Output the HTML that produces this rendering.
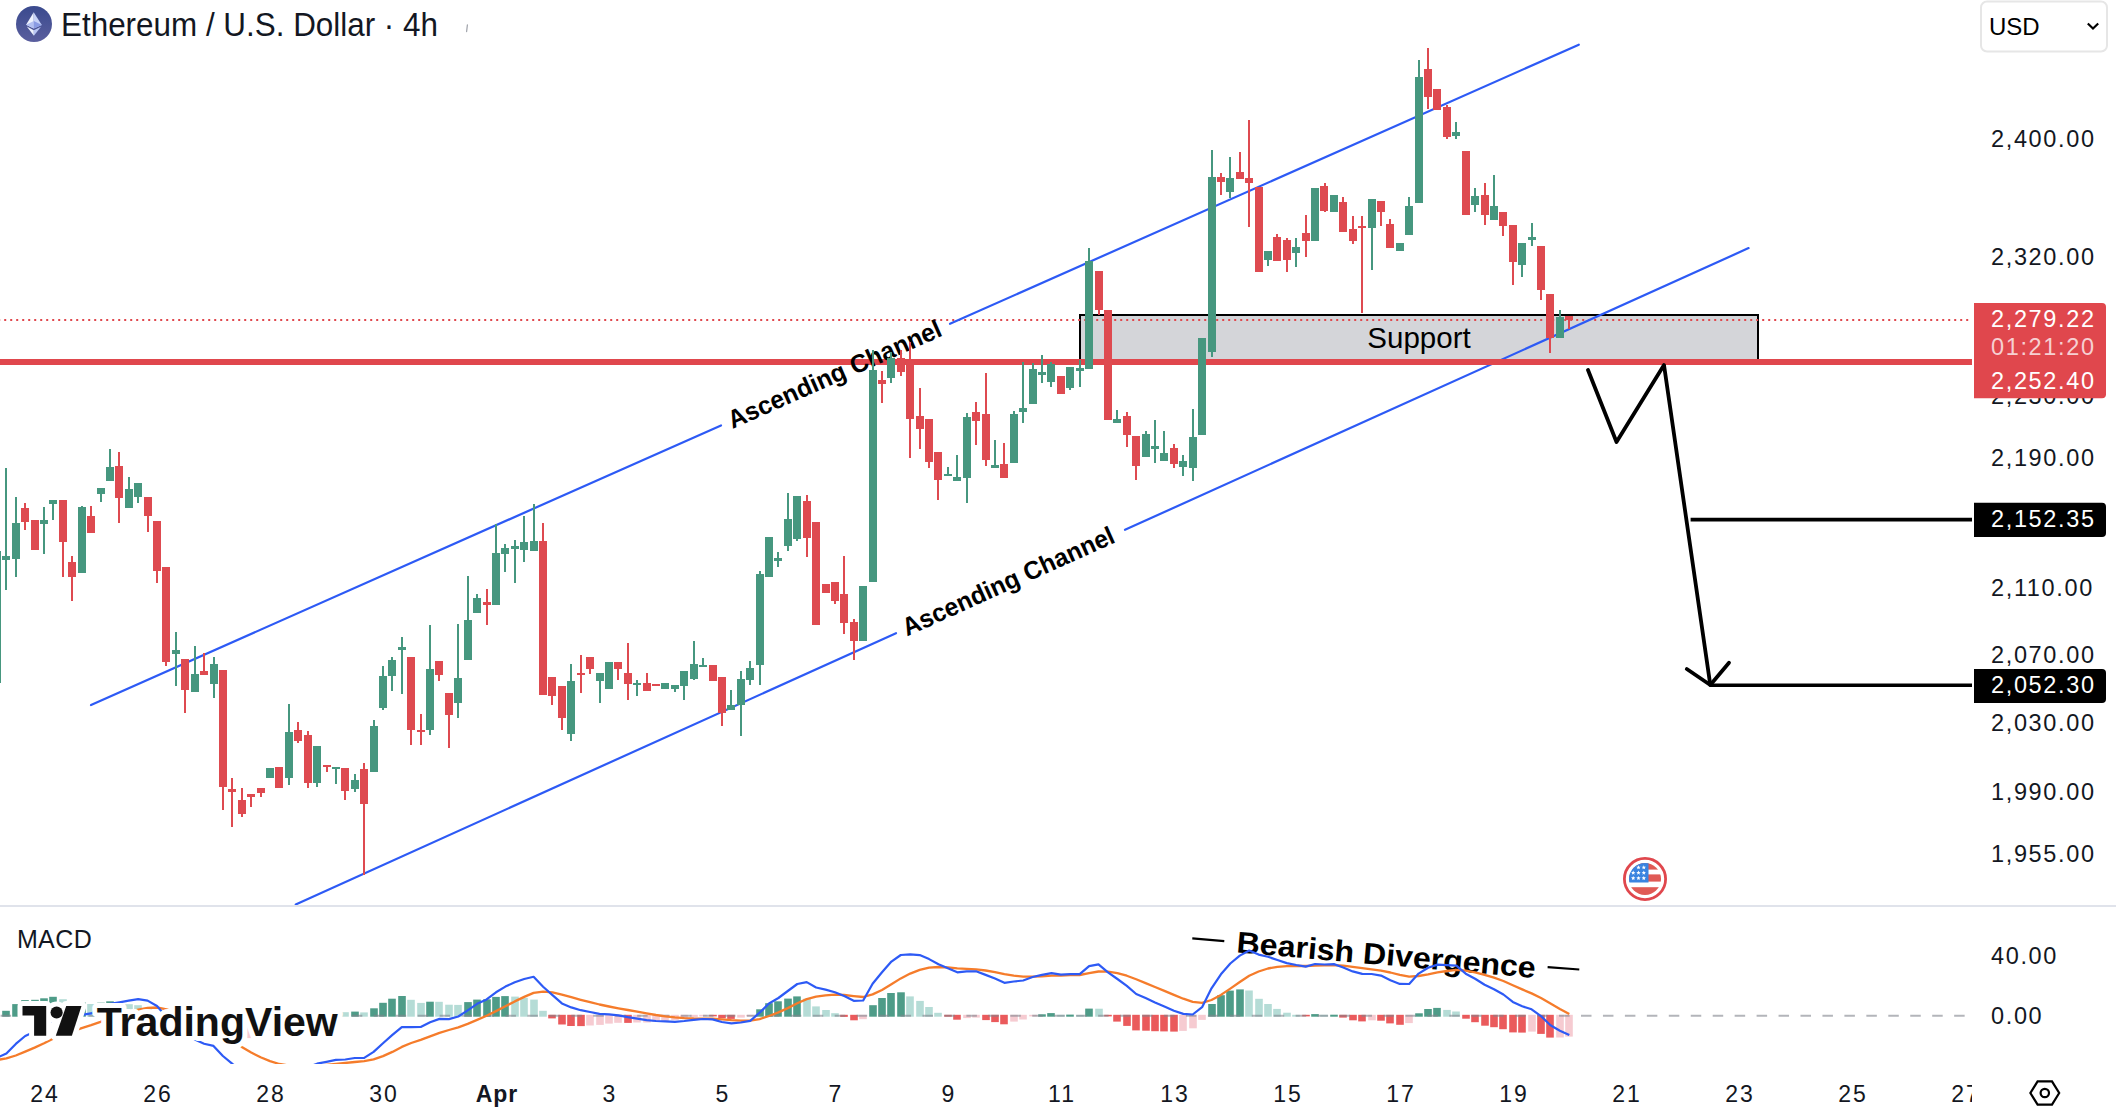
<!DOCTYPE html><html><head><meta charset="utf-8"><style>
html,body{margin:0;padding:0;background:#fff;width:2116px;height:1118px;overflow:hidden}
svg{display:block}
text{font-family:"Liberation Sans",sans-serif}
</style></head><body>
<svg width="2116" height="1118" viewBox="0 0 2116 1118">
<rect width="2116" height="1118" fill="#fff"/>
<defs>
<clipPath id="main"><rect x="0" y="0" width="1972" height="906"/></clipPath>
<clipPath id="macdc"><rect x="0" y="907" width="1972" height="157"/></clipPath>
<linearGradient id="ethg" x1="0" y1="0" x2="0" y2="1"><stop offset="0" stop-color="#3a4a8e"/><stop offset="1" stop-color="#5a5e9e"/></linearGradient>
</defs>

<g clip-path="url(#main)">
<rect x="1080" y="315" width="678" height="46" fill="#d4d5d9" stroke="#000" stroke-width="2"/>
<line x1="0" y1="320" x2="1972" y2="320" stroke="#e0474d" stroke-width="2" stroke-dasharray="2 4" stroke-dashoffset="1.8"/>
<line x1="91" y1="705.0" x2="721" y2="425.4" stroke="#2d5af5" stroke-width="2.2" stroke-linecap="round"/>
<line x1="950" y1="323.8" x2="1578.8" y2="44.7" stroke="#2d5af5" stroke-width="2.2" stroke-linecap="round"/>
<line x1="295.7" y1="904.4" x2="896" y2="633.2" stroke="#2d5af5" stroke-width="2.2" stroke-linecap="round"/>
<line x1="1125" y1="529.8" x2="1748.6" y2="248.1" stroke="#2d5af5" stroke-width="2.2" stroke-linecap="round"/>
<rect x="0" y="359" width="1972" height="6" fill="#e0474d"/>
<text x="1419" y="348" font-size="29.5" text-anchor="middle" fill="#000">Support</text>
<text transform="translate(907,636.5) rotate(-24.31)" font-size="25.5" font-weight="bold" fill="#000" textLength="230" lengthAdjust="spacingAndGlyphs">Ascending Channel</text>
<text transform="translate(732.5,429) rotate(-23.93)" font-size="25.5" font-weight="bold" fill="#000" textLength="231" lengthAdjust="spacingAndGlyphs">Ascending Channel</text>
<rect x="-4" y="551.0" width="2" height="132.0" fill="#46977f"/>
<rect x="-7" y="551.0" width="8" height="132.0" fill="#46977f"/>
<rect x="5" y="468.0" width="2" height="122.0" fill="#46977f"/>
<rect x="2" y="556.0" width="8" height="4.0" fill="#46977f"/>
<rect x="15" y="497.0" width="2" height="80.0" fill="#46977f"/>
<rect x="12" y="523.0" width="8" height="36.0" fill="#46977f"/>
<rect x="24" y="503.0" width="2" height="27.0" fill="#de4a50"/>
<rect x="21" y="508.0" width="8" height="14.0" fill="#de4a50"/>
<rect x="34" y="520.0" width="2" height="30.0" fill="#de4a50"/>
<rect x="31" y="520.0" width="8" height="30.0" fill="#de4a50"/>
<rect x="43" y="507.0" width="2" height="47.0" fill="#46977f"/>
<rect x="40" y="520.0" width="8" height="4.0" fill="#46977f"/>
<rect x="52" y="500.0" width="2" height="20.0" fill="#46977f"/>
<rect x="49" y="500.0" width="8" height="4.0" fill="#46977f"/>
<rect x="62" y="500.0" width="2" height="77.0" fill="#de4a50"/>
<rect x="59" y="500.0" width="8" height="42.0" fill="#de4a50"/>
<rect x="71" y="556.0" width="2" height="45.0" fill="#de4a50"/>
<rect x="68" y="562.0" width="8" height="15.0" fill="#de4a50"/>
<rect x="81" y="506.0" width="2" height="67.0" fill="#46977f"/>
<rect x="78" y="507.0" width="8" height="66.0" fill="#46977f"/>
<rect x="90" y="506.0" width="2" height="27.0" fill="#de4a50"/>
<rect x="87" y="516.0" width="8" height="17.0" fill="#de4a50"/>
<rect x="100" y="488.0" width="2" height="14.0" fill="#46977f"/>
<rect x="97" y="488.0" width="8" height="6.0" fill="#46977f"/>
<rect x="109" y="449.0" width="2" height="32.0" fill="#46977f"/>
<rect x="106" y="467.0" width="8" height="14.0" fill="#46977f"/>
<rect x="118" y="452.0" width="2" height="71.0" fill="#de4a50"/>
<rect x="115" y="466.0" width="8" height="32.0" fill="#de4a50"/>
<rect x="128" y="477.0" width="2" height="31.0" fill="#46977f"/>
<rect x="125" y="489.0" width="8" height="19.0" fill="#46977f"/>
<rect x="137" y="483.0" width="2" height="20.0" fill="#46977f"/>
<rect x="134" y="483.0" width="8" height="14.0" fill="#46977f"/>
<rect x="147" y="497.0" width="2" height="35.0" fill="#de4a50"/>
<rect x="144" y="497.0" width="8" height="19.0" fill="#de4a50"/>
<rect x="156" y="521.0" width="2" height="62.0" fill="#de4a50"/>
<rect x="153" y="521.0" width="8" height="50.0" fill="#de4a50"/>
<rect x="165" y="567.0" width="2" height="99.0" fill="#de4a50"/>
<rect x="162" y="567.0" width="8" height="95.0" fill="#de4a50"/>
<rect x="175" y="632.0" width="2" height="54.0" fill="#46977f"/>
<rect x="172" y="650.0" width="8" height="4.0" fill="#46977f"/>
<rect x="184" y="659.0" width="2" height="54.0" fill="#de4a50"/>
<rect x="181" y="659.0" width="8" height="31.0" fill="#de4a50"/>
<rect x="194" y="646.0" width="2" height="46.0" fill="#46977f"/>
<rect x="191" y="674.0" width="8" height="18.0" fill="#46977f"/>
<rect x="203" y="653.0" width="2" height="22.0" fill="#de4a50"/>
<rect x="200" y="671.0" width="8" height="4.0" fill="#de4a50"/>
<rect x="213" y="657.0" width="2" height="41.0" fill="#46977f"/>
<rect x="210" y="664.0" width="8" height="20.0" fill="#46977f"/>
<rect x="222" y="670.0" width="2" height="140.0" fill="#de4a50"/>
<rect x="219" y="670.0" width="8" height="117.0" fill="#de4a50"/>
<rect x="231" y="778.0" width="2" height="49.0" fill="#de4a50"/>
<rect x="228" y="789.0" width="8" height="3.0" fill="#de4a50"/>
<rect x="241" y="788.0" width="2" height="29.0" fill="#de4a50"/>
<rect x="238" y="800.0" width="8" height="14.0" fill="#de4a50"/>
<rect x="250" y="794.0" width="2" height="13.0" fill="#de4a50"/>
<rect x="247" y="794.0" width="8" height="3.0" fill="#de4a50"/>
<rect x="260" y="788.0" width="2" height="9.0" fill="#de4a50"/>
<rect x="257" y="788.0" width="8" height="5.0" fill="#de4a50"/>
<rect x="269" y="768.0" width="2" height="10.0" fill="#46977f"/>
<rect x="266" y="768.0" width="8" height="10.0" fill="#46977f"/>
<rect x="278" y="767.0" width="2" height="21.0" fill="#de4a50"/>
<rect x="275" y="767.0" width="8" height="21.0" fill="#de4a50"/>
<rect x="288" y="704.0" width="2" height="81.0" fill="#46977f"/>
<rect x="285" y="732.0" width="8" height="46.0" fill="#46977f"/>
<rect x="297" y="722.0" width="2" height="21.0" fill="#de4a50"/>
<rect x="294" y="730.0" width="8" height="11.0" fill="#de4a50"/>
<rect x="307" y="731.0" width="2" height="57.0" fill="#de4a50"/>
<rect x="304" y="735.0" width="8" height="48.0" fill="#de4a50"/>
<rect x="316" y="746.0" width="2" height="41.0" fill="#46977f"/>
<rect x="313" y="746.0" width="8" height="37.0" fill="#46977f"/>
<rect x="326" y="765.0" width="2" height="7.0" fill="#de4a50"/>
<rect x="323" y="765.0" width="8" height="2.0" fill="#de4a50"/>
<rect x="335" y="767.0" width="2" height="17.0" fill="#46977f"/>
<rect x="332" y="767.0" width="8" height="2.0" fill="#46977f"/>
<rect x="344" y="768.0" width="2" height="32.0" fill="#de4a50"/>
<rect x="341" y="768.0" width="8" height="23.0" fill="#de4a50"/>
<rect x="354" y="774.0" width="2" height="18.0" fill="#46977f"/>
<rect x="351" y="780.0" width="8" height="9.0" fill="#46977f"/>
<rect x="363" y="763.0" width="2" height="112.0" fill="#de4a50"/>
<rect x="360" y="769.0" width="8" height="35.0" fill="#de4a50"/>
<rect x="373" y="720.0" width="2" height="52.0" fill="#46977f"/>
<rect x="370" y="726.0" width="8" height="46.0" fill="#46977f"/>
<rect x="382" y="666.0" width="2" height="44.0" fill="#46977f"/>
<rect x="379" y="676.0" width="8" height="32.0" fill="#46977f"/>
<rect x="391" y="657.0" width="2" height="34.0" fill="#46977f"/>
<rect x="388" y="660.0" width="8" height="16.0" fill="#46977f"/>
<rect x="401" y="637.0" width="2" height="57.0" fill="#46977f"/>
<rect x="398" y="647.0" width="8" height="3.0" fill="#46977f"/>
<rect x="410" y="657.0" width="2" height="88.0" fill="#de4a50"/>
<rect x="407" y="657.0" width="8" height="73.0" fill="#de4a50"/>
<rect x="420" y="714.0" width="2" height="31.0" fill="#de4a50"/>
<rect x="417" y="730.0" width="8" height="2.0" fill="#de4a50"/>
<rect x="429" y="625.0" width="2" height="110.0" fill="#46977f"/>
<rect x="426" y="669.0" width="8" height="61.0" fill="#46977f"/>
<rect x="438" y="661.0" width="2" height="20.0" fill="#de4a50"/>
<rect x="435" y="661.0" width="8" height="14.0" fill="#de4a50"/>
<rect x="448" y="693.0" width="2" height="55.0" fill="#de4a50"/>
<rect x="445" y="693.0" width="8" height="22.0" fill="#de4a50"/>
<rect x="457" y="624.0" width="2" height="94.0" fill="#46977f"/>
<rect x="454" y="678.0" width="8" height="25.0" fill="#46977f"/>
<rect x="467" y="576.0" width="2" height="84.0" fill="#46977f"/>
<rect x="464" y="620.0" width="8" height="40.0" fill="#46977f"/>
<rect x="476" y="594.0" width="2" height="19.0" fill="#46977f"/>
<rect x="473" y="598.0" width="8" height="15.0" fill="#46977f"/>
<rect x="486" y="589.0" width="2" height="36.0" fill="#de4a50"/>
<rect x="483" y="602.0" width="8" height="3.0" fill="#de4a50"/>
<rect x="495" y="524.0" width="2" height="81.0" fill="#46977f"/>
<rect x="492" y="553.0" width="8" height="52.0" fill="#46977f"/>
<rect x="504" y="544.0" width="2" height="28.0" fill="#46977f"/>
<rect x="501" y="548.0" width="8" height="6.0" fill="#46977f"/>
<rect x="514" y="540.0" width="2" height="43.0" fill="#46977f"/>
<rect x="511" y="546.0" width="8" height="3.0" fill="#46977f"/>
<rect x="523" y="516.0" width="2" height="46.0" fill="#46977f"/>
<rect x="520" y="542.0" width="8" height="8.0" fill="#46977f"/>
<rect x="533" y="504.0" width="2" height="47.0" fill="#46977f"/>
<rect x="530" y="541.0" width="8" height="10.0" fill="#46977f"/>
<rect x="542" y="523.0" width="2" height="172.0" fill="#de4a50"/>
<rect x="539" y="541.0" width="8" height="154.0" fill="#de4a50"/>
<rect x="551" y="677.0" width="2" height="28.0" fill="#de4a50"/>
<rect x="548" y="677.0" width="8" height="19.0" fill="#de4a50"/>
<rect x="561" y="686.0" width="2" height="44.0" fill="#de4a50"/>
<rect x="558" y="686.0" width="8" height="32.0" fill="#de4a50"/>
<rect x="570" y="664.0" width="2" height="77.0" fill="#46977f"/>
<rect x="567" y="681.0" width="8" height="53.0" fill="#46977f"/>
<rect x="580" y="655.0" width="2" height="38.0" fill="#de4a50"/>
<rect x="577" y="673.0" width="8" height="2.0" fill="#de4a50"/>
<rect x="589" y="657.0" width="2" height="17.0" fill="#de4a50"/>
<rect x="586" y="657.0" width="8" height="12.0" fill="#de4a50"/>
<rect x="599" y="673.0" width="2" height="30.0" fill="#46977f"/>
<rect x="596" y="673.0" width="8" height="8.0" fill="#46977f"/>
<rect x="608" y="662.0" width="2" height="27.0" fill="#46977f"/>
<rect x="605" y="662.0" width="8" height="27.0" fill="#46977f"/>
<rect x="617" y="662.0" width="2" height="18.0" fill="#de4a50"/>
<rect x="614" y="662.0" width="8" height="7.0" fill="#de4a50"/>
<rect x="627" y="643.0" width="2" height="57.0" fill="#de4a50"/>
<rect x="624" y="673.0" width="8" height="11.0" fill="#de4a50"/>
<rect x="636" y="680.0" width="2" height="16.0" fill="#46977f"/>
<rect x="633" y="683.0" width="8" height="2.0" fill="#46977f"/>
<rect x="646" y="673.0" width="2" height="18.0" fill="#de4a50"/>
<rect x="643" y="683.0" width="8" height="8.0" fill="#de4a50"/>
<rect x="655" y="684.0" width="2" height="2.0" fill="#de4a50"/>
<rect x="652" y="684.0" width="8" height="2.0" fill="#de4a50"/>
<rect x="664" y="683.0" width="2" height="6.0" fill="#46977f"/>
<rect x="661" y="683.0" width="8" height="6.0" fill="#46977f"/>
<rect x="674" y="685.0" width="2" height="7.0" fill="#46977f"/>
<rect x="671" y="685.0" width="8" height="4.0" fill="#46977f"/>
<rect x="683" y="671.0" width="2" height="29.0" fill="#46977f"/>
<rect x="680" y="671.0" width="8" height="15.0" fill="#46977f"/>
<rect x="693" y="641.0" width="2" height="39.0" fill="#46977f"/>
<rect x="690" y="664.0" width="8" height="15.0" fill="#46977f"/>
<rect x="702" y="658.0" width="2" height="9.0" fill="#46977f"/>
<rect x="699" y="665.0" width="8" height="2.0" fill="#46977f"/>
<rect x="712" y="665.0" width="2" height="16.0" fill="#de4a50"/>
<rect x="709" y="665.0" width="8" height="16.0" fill="#de4a50"/>
<rect x="721" y="677.0" width="2" height="49.0" fill="#de4a50"/>
<rect x="718" y="677.0" width="8" height="36.0" fill="#de4a50"/>
<rect x="730" y="690.0" width="2" height="20.0" fill="#46977f"/>
<rect x="727" y="705.0" width="8" height="5.0" fill="#46977f"/>
<rect x="740" y="671.0" width="2" height="65.0" fill="#46977f"/>
<rect x="737" y="679.0" width="8" height="26.0" fill="#46977f"/>
<rect x="749" y="661.0" width="2" height="24.0" fill="#46977f"/>
<rect x="746" y="668.0" width="8" height="12.0" fill="#46977f"/>
<rect x="759" y="571.0" width="2" height="114.0" fill="#46977f"/>
<rect x="756" y="574.0" width="8" height="91.0" fill="#46977f"/>
<rect x="768" y="537.0" width="2" height="40.0" fill="#46977f"/>
<rect x="765" y="537.0" width="8" height="40.0" fill="#46977f"/>
<rect x="777" y="552.0" width="2" height="15.0" fill="#46977f"/>
<rect x="774" y="558.0" width="8" height="3.0" fill="#46977f"/>
<rect x="787" y="493.0" width="2" height="58.0" fill="#46977f"/>
<rect x="784" y="519.0" width="8" height="27.0" fill="#46977f"/>
<rect x="796" y="496.0" width="2" height="45.0" fill="#46977f"/>
<rect x="793" y="496.0" width="8" height="43.0" fill="#46977f"/>
<rect x="806" y="495.0" width="2" height="62.0" fill="#de4a50"/>
<rect x="803" y="501.0" width="8" height="37.0" fill="#de4a50"/>
<rect x="815" y="522.0" width="2" height="103.0" fill="#de4a50"/>
<rect x="812" y="522.0" width="8" height="103.0" fill="#de4a50"/>
<rect x="825" y="584.0" width="2" height="9.0" fill="#de4a50"/>
<rect x="822" y="584.0" width="8" height="9.0" fill="#de4a50"/>
<rect x="834" y="582.0" width="2" height="22.0" fill="#de4a50"/>
<rect x="831" y="582.0" width="8" height="19.0" fill="#de4a50"/>
<rect x="843" y="556.0" width="2" height="78.0" fill="#de4a50"/>
<rect x="840" y="594.0" width="8" height="29.0" fill="#de4a50"/>
<rect x="853" y="619.0" width="2" height="41.0" fill="#de4a50"/>
<rect x="850" y="622.0" width="8" height="19.0" fill="#de4a50"/>
<rect x="862" y="586.0" width="2" height="55.0" fill="#46977f"/>
<rect x="859" y="586.0" width="8" height="55.0" fill="#46977f"/>
<rect x="872" y="350.0" width="2" height="232.0" fill="#46977f"/>
<rect x="869" y="370.0" width="8" height="212.0" fill="#46977f"/>
<rect x="881" y="371.0" width="2" height="32.0" fill="#de4a50"/>
<rect x="878" y="380.0" width="8" height="4.0" fill="#de4a50"/>
<rect x="890" y="352.0" width="2" height="31.0" fill="#46977f"/>
<rect x="887" y="358.0" width="8" height="20.0" fill="#46977f"/>
<rect x="900" y="350.0" width="2" height="26.0" fill="#de4a50"/>
<rect x="897" y="358.0" width="8" height="14.0" fill="#de4a50"/>
<rect x="909" y="342.0" width="2" height="116.0" fill="#de4a50"/>
<rect x="906" y="361.0" width="8" height="58.0" fill="#de4a50"/>
<rect x="919" y="388.0" width="2" height="61.0" fill="#de4a50"/>
<rect x="916" y="416.0" width="8" height="13.0" fill="#de4a50"/>
<rect x="928" y="419.0" width="2" height="49.0" fill="#de4a50"/>
<rect x="925" y="419.0" width="8" height="43.0" fill="#de4a50"/>
<rect x="937" y="452.0" width="2" height="48.0" fill="#de4a50"/>
<rect x="934" y="452.0" width="8" height="28.0" fill="#de4a50"/>
<rect x="947" y="467.0" width="2" height="9.0" fill="#46977f"/>
<rect x="944" y="474.0" width="8" height="2.0" fill="#46977f"/>
<rect x="956" y="455.0" width="2" height="26.0" fill="#46977f"/>
<rect x="953" y="477.0" width="8" height="4.0" fill="#46977f"/>
<rect x="966" y="413.0" width="2" height="90.0" fill="#46977f"/>
<rect x="963" y="417.0" width="8" height="61.0" fill="#46977f"/>
<rect x="975" y="402.0" width="2" height="43.0" fill="#de4a50"/>
<rect x="972" y="412.0" width="8" height="9.0" fill="#de4a50"/>
<rect x="985" y="373.0" width="2" height="93.0" fill="#de4a50"/>
<rect x="982" y="414.0" width="8" height="46.0" fill="#de4a50"/>
<rect x="994" y="440.0" width="2" height="28.0" fill="#46977f"/>
<rect x="991" y="465.0" width="8" height="3.0" fill="#46977f"/>
<rect x="1003" y="443.0" width="2" height="35.0" fill="#de4a50"/>
<rect x="1000" y="464.0" width="8" height="14.0" fill="#de4a50"/>
<rect x="1013" y="411.0" width="2" height="52.0" fill="#46977f"/>
<rect x="1010" y="414.0" width="8" height="49.0" fill="#46977f"/>
<rect x="1022" y="362.0" width="2" height="61.0" fill="#46977f"/>
<rect x="1019" y="408.0" width="8" height="4.0" fill="#46977f"/>
<rect x="1032" y="363.0" width="2" height="41.0" fill="#46977f"/>
<rect x="1029" y="369.0" width="8" height="35.0" fill="#46977f"/>
<rect x="1041" y="355.0" width="2" height="28.0" fill="#46977f"/>
<rect x="1038" y="372.0" width="8" height="3.0" fill="#46977f"/>
<rect x="1050" y="362.0" width="2" height="25.0" fill="#46977f"/>
<rect x="1047" y="364.0" width="8" height="18.0" fill="#46977f"/>
<rect x="1060" y="376.0" width="2" height="18.0" fill="#de4a50"/>
<rect x="1057" y="376.0" width="8" height="18.0" fill="#de4a50"/>
<rect x="1069" y="367.0" width="2" height="23.0" fill="#46977f"/>
<rect x="1066" y="367.0" width="8" height="21.0" fill="#46977f"/>
<rect x="1079" y="360.0" width="2" height="27.0" fill="#46977f"/>
<rect x="1076" y="368.0" width="8" height="3.0" fill="#46977f"/>
<rect x="1088" y="248.0" width="2" height="121.0" fill="#46977f"/>
<rect x="1085" y="261.0" width="8" height="108.0" fill="#46977f"/>
<rect x="1098" y="271.0" width="2" height="44.0" fill="#de4a50"/>
<rect x="1095" y="271.0" width="8" height="39.0" fill="#de4a50"/>
<rect x="1107" y="310.0" width="2" height="110.0" fill="#de4a50"/>
<rect x="1104" y="310.0" width="8" height="110.0" fill="#de4a50"/>
<rect x="1116" y="410.0" width="2" height="13.0" fill="#46977f"/>
<rect x="1113" y="419.0" width="8" height="4.0" fill="#46977f"/>
<rect x="1126" y="412.0" width="2" height="35.0" fill="#de4a50"/>
<rect x="1123" y="416.0" width="8" height="19.0" fill="#de4a50"/>
<rect x="1135" y="436.0" width="2" height="44.0" fill="#de4a50"/>
<rect x="1132" y="436.0" width="8" height="30.0" fill="#de4a50"/>
<rect x="1145" y="431.0" width="2" height="26.0" fill="#46977f"/>
<rect x="1142" y="434.0" width="8" height="23.0" fill="#46977f"/>
<rect x="1154" y="420.0" width="2" height="43.0" fill="#46977f"/>
<rect x="1151" y="446.0" width="8" height="3.0" fill="#46977f"/>
<rect x="1163" y="431.0" width="2" height="30.0" fill="#46977f"/>
<rect x="1160" y="453.0" width="8" height="8.0" fill="#46977f"/>
<rect x="1173" y="444.0" width="2" height="24.0" fill="#de4a50"/>
<rect x="1170" y="448.0" width="8" height="16.0" fill="#de4a50"/>
<rect x="1182" y="455.0" width="2" height="21.0" fill="#46977f"/>
<rect x="1179" y="461.0" width="8" height="6.0" fill="#46977f"/>
<rect x="1192" y="409.0" width="2" height="72.0" fill="#46977f"/>
<rect x="1189" y="437.0" width="8" height="31.0" fill="#46977f"/>
<rect x="1201" y="338.0" width="2" height="97.0" fill="#46977f"/>
<rect x="1198" y="338.0" width="8" height="97.0" fill="#46977f"/>
<rect x="1211" y="150.0" width="2" height="207.0" fill="#46977f"/>
<rect x="1208" y="177.0" width="8" height="175.0" fill="#46977f"/>
<rect x="1220" y="173.0" width="2" height="22.0" fill="#de4a50"/>
<rect x="1217" y="177.0" width="8" height="5.0" fill="#de4a50"/>
<rect x="1229" y="157.0" width="2" height="41.0" fill="#46977f"/>
<rect x="1226" y="178.0" width="8" height="14.0" fill="#46977f"/>
<rect x="1239" y="152.0" width="2" height="27.0" fill="#de4a50"/>
<rect x="1236" y="172.0" width="8" height="7.0" fill="#de4a50"/>
<rect x="1248" y="120.0" width="2" height="107.0" fill="#de4a50"/>
<rect x="1245" y="178.0" width="8" height="5.0" fill="#de4a50"/>
<rect x="1258" y="187.0" width="2" height="85.0" fill="#de4a50"/>
<rect x="1255" y="187.0" width="8" height="85.0" fill="#de4a50"/>
<rect x="1267" y="251.0" width="2" height="15.0" fill="#46977f"/>
<rect x="1264" y="251.0" width="8" height="9.0" fill="#46977f"/>
<rect x="1276" y="234.0" width="2" height="27.0" fill="#de4a50"/>
<rect x="1273" y="237.0" width="8" height="24.0" fill="#de4a50"/>
<rect x="1286" y="238.0" width="2" height="34.0" fill="#de4a50"/>
<rect x="1283" y="240.0" width="8" height="20.0" fill="#de4a50"/>
<rect x="1295" y="238.0" width="2" height="29.0" fill="#46977f"/>
<rect x="1292" y="247.0" width="8" height="6.0" fill="#46977f"/>
<rect x="1305" y="215.0" width="2" height="42.0" fill="#de4a50"/>
<rect x="1302" y="233.0" width="8" height="8.0" fill="#de4a50"/>
<rect x="1314" y="188.0" width="2" height="53.0" fill="#46977f"/>
<rect x="1311" y="188.0" width="8" height="53.0" fill="#46977f"/>
<rect x="1324" y="183.0" width="2" height="29.0" fill="#de4a50"/>
<rect x="1320" y="186.0" width="8" height="25.0" fill="#de4a50"/>
<rect x="1333" y="195.0" width="2" height="17.0" fill="#46977f"/>
<rect x="1330" y="195.0" width="8" height="17.0" fill="#46977f"/>
<rect x="1342" y="197.0" width="2" height="35.0" fill="#de4a50"/>
<rect x="1339" y="202.0" width="8" height="30.0" fill="#de4a50"/>
<rect x="1352" y="216.0" width="2" height="28.0" fill="#de4a50"/>
<rect x="1349" y="229.0" width="8" height="12.0" fill="#de4a50"/>
<rect x="1361" y="216.0" width="2" height="97.0" fill="#de4a50"/>
<rect x="1358" y="226.0" width="8" height="2.0" fill="#de4a50"/>
<rect x="1371" y="199.0" width="2" height="71.0" fill="#46977f"/>
<rect x="1368" y="199.0" width="8" height="29.0" fill="#46977f"/>
<rect x="1380" y="201.0" width="2" height="25.0" fill="#de4a50"/>
<rect x="1377" y="201.0" width="8" height="11.0" fill="#de4a50"/>
<rect x="1389" y="219.0" width="2" height="29.0" fill="#de4a50"/>
<rect x="1386" y="224.0" width="8" height="24.0" fill="#de4a50"/>
<rect x="1399" y="243.0" width="2" height="8.0" fill="#46977f"/>
<rect x="1396" y="243.0" width="8" height="8.0" fill="#46977f"/>
<rect x="1408" y="197.0" width="2" height="38.0" fill="#46977f"/>
<rect x="1405" y="206.0" width="8" height="29.0" fill="#46977f"/>
<rect x="1418" y="60.0" width="2" height="143.0" fill="#46977f"/>
<rect x="1415" y="77.0" width="8" height="126.0" fill="#46977f"/>
<rect x="1427" y="48.0" width="2" height="61.0" fill="#de4a50"/>
<rect x="1424" y="69.0" width="8" height="28.0" fill="#de4a50"/>
<rect x="1436" y="89.0" width="2" height="21.0" fill="#de4a50"/>
<rect x="1433" y="89.0" width="8" height="21.0" fill="#de4a50"/>
<rect x="1446" y="105.0" width="2" height="34.0" fill="#de4a50"/>
<rect x="1443" y="107.0" width="8" height="30.0" fill="#de4a50"/>
<rect x="1455" y="122.0" width="2" height="17.0" fill="#46977f"/>
<rect x="1452" y="132.0" width="8" height="4.0" fill="#46977f"/>
<rect x="1465" y="151.0" width="2" height="64.0" fill="#de4a50"/>
<rect x="1462" y="151.0" width="8" height="64.0" fill="#de4a50"/>
<rect x="1474" y="188.0" width="2" height="24.0" fill="#46977f"/>
<rect x="1471" y="196.0" width="8" height="9.0" fill="#46977f"/>
<rect x="1484" y="183.0" width="2" height="42.0" fill="#de4a50"/>
<rect x="1481" y="195.0" width="8" height="20.0" fill="#de4a50"/>
<rect x="1493" y="175.0" width="2" height="45.0" fill="#46977f"/>
<rect x="1490" y="206.0" width="8" height="14.0" fill="#46977f"/>
<rect x="1502" y="212.0" width="2" height="24.0" fill="#de4a50"/>
<rect x="1499" y="212.0" width="8" height="14.0" fill="#de4a50"/>
<rect x="1512" y="225.0" width="2" height="60.0" fill="#de4a50"/>
<rect x="1509" y="225.0" width="8" height="37.0" fill="#de4a50"/>
<rect x="1521" y="243.0" width="2" height="34.0" fill="#46977f"/>
<rect x="1518" y="243.0" width="8" height="22.0" fill="#46977f"/>
<rect x="1531" y="223.0" width="2" height="23.0" fill="#46977f"/>
<rect x="1528" y="237.0" width="8" height="3.0" fill="#46977f"/>
<rect x="1540" y="246.0" width="2" height="54.0" fill="#de4a50"/>
<rect x="1537" y="246.0" width="8" height="44.0" fill="#de4a50"/>
<rect x="1549" y="294.0" width="2" height="59.0" fill="#de4a50"/>
<rect x="1546" y="294.0" width="8" height="44.0" fill="#de4a50"/>
<rect x="1559" y="310.0" width="2" height="28.0" fill="#46977f"/>
<rect x="1556" y="317.0" width="8" height="21.0" fill="#46977f"/>
<rect x="1568" y="316.0" width="2" height="13.0" fill="#de4a50"/>
<rect x="1565" y="316.0" width="8" height="4.0" fill="#de4a50"/>
<polyline points="1588,370 1616.5,442 1664,365 1710.3,685" fill="none" stroke="#000" stroke-width="3.8" stroke-linejoin="round" stroke-linecap="round"/>
<polyline points="1686.8,669 1710.3,685 1729,662.7" fill="none" stroke="#000" stroke-width="3.8" stroke-linejoin="round" stroke-linecap="round"/>
<line x1="1690.6" y1="519.6" x2="1972" y2="519.6" stroke="#000" stroke-width="3.6"/>
<line x1="1710" y1="685.2" x2="1972" y2="685.2" stroke="#000" stroke-width="3.6"/>
<g transform="translate(1645,879)">
<circle r="20.6" fill="#fff" stroke="#e0474d" stroke-width="2.8"/>
<clipPath id="flagc"><circle r="16" /></clipPath>
<g clip-path="url(#flagc)">
<rect x="-17" y="-17" width="34" height="34" fill="#fff"/>
<rect x="-17" y="-16" width="34" height="6.6" fill="#e05a55"/>
<rect x="-17" y="-4.6" width="34" height="7.2" fill="#e05a55"/>
<rect x="-17" y="8.2" width="34" height="9" fill="#e05a55"/>
<rect x="-17" y="-17" width="20.5" height="20.5" fill="#3a84e0"/>
</g>
<g fill="#fff"><polygon points="-6.50,-13.80 -5.89,-12.34 -4.31,-12.21 -5.52,-11.18 -5.15,-9.64 -6.50,-10.46 -7.85,-9.64 -7.48,-11.18 -8.69,-12.21 -7.11,-12.34"/><polygon points="-1.20,-13.80 -0.59,-12.34 0.99,-12.21 -0.22,-11.18 0.15,-9.64 -1.20,-10.46 -2.55,-9.64 -2.18,-11.18 -3.39,-12.21 -1.81,-12.34"/><polygon points="-11.80,-8.50 -11.19,-7.04 -9.61,-6.91 -10.82,-5.88 -10.45,-4.34 -11.80,-5.17 -13.15,-4.34 -12.78,-5.88 -13.99,-6.91 -12.41,-7.04"/><polygon points="-6.50,-8.50 -5.89,-7.04 -4.31,-6.91 -5.52,-5.88 -5.15,-4.34 -6.50,-5.17 -7.85,-4.34 -7.48,-5.88 -8.69,-6.91 -7.11,-7.04"/><polygon points="-1.20,-8.50 -0.59,-7.04 0.99,-6.91 -0.22,-5.88 0.15,-4.34 -1.20,-5.17 -2.55,-4.34 -2.18,-5.88 -3.39,-6.91 -1.81,-7.04"/><polygon points="-11.80,-3.10 -11.19,-1.64 -9.61,-1.51 -10.82,-0.48 -10.45,1.06 -11.80,0.23 -13.15,1.06 -12.78,-0.48 -13.99,-1.51 -12.41,-1.64"/><polygon points="-6.50,-3.10 -5.89,-1.64 -4.31,-1.51 -5.52,-0.48 -5.15,1.06 -6.50,0.23 -7.85,1.06 -7.48,-0.48 -8.69,-1.51 -7.11,-1.64"/><polygon points="-1.20,-3.10 -0.59,-1.64 0.99,-1.51 -0.22,-0.48 0.15,1.06 -1.20,0.23 -2.55,1.06 -2.18,-0.48 -3.39,-1.51 -1.81,-1.64"/></g></g>
</g>
<rect x="0" y="905" width="2116" height="2" fill="#e0e3eb"/>
<text x="1991" y="146.6" font-size="23.5" letter-spacing="1.65" fill="#131722">2,400.00</text>
<text x="1991" y="264.6" font-size="23.5" letter-spacing="1.65" fill="#131722">2,320.00</text>
<text x="1991" y="403.6" font-size="23.5" letter-spacing="1.65" fill="#131722">2,230.00</text>
<text x="1991" y="465.6" font-size="23.5" letter-spacing="1.65" fill="#131722">2,190.00</text>
<text x="1991" y="595.6" font-size="23.5" letter-spacing="1.65" fill="#131722">2,110.00</text>
<text x="1991" y="662.6" font-size="23.5" letter-spacing="1.65" fill="#131722">2,070.00</text>
<text x="1991" y="730.6" font-size="23.5" letter-spacing="1.65" fill="#131722">2,030.00</text>
<text x="1991" y="799.6" font-size="23.5" letter-spacing="1.65" fill="#131722">1,990.00</text>
<text x="1991" y="861.6" font-size="23.5" letter-spacing="1.65" fill="#131722">1,955.00</text>
<path d="M1974,303 H2102 Q2106,303 2106,307 V394.2 Q2106,398.2 2102,398.2 H1974 Z" fill="#e0474d"/>
<text x="1991" y="327.0" font-size="23.5" letter-spacing="1.65" fill="#fff">2,279.22</text>
<text x="1991" y="354.6" font-size="23.5" letter-spacing="1.65" fill="#f6d0d2">01:21:20</text>
<text x="1991" y="388.6" font-size="23.5" letter-spacing="1.65" fill="#fff">2,252.40</text>
<path d="M1974,502.7 H2102 Q2106,502.7 2106,506.7 V533 Q2106,537 2102,537 H1974 Z" fill="#000"/>
<text x="1991" y="527.2" font-size="23.5" letter-spacing="1.65" fill="#fff">2,152.35</text>
<path d="M1974,669 H2102 Q2106,669 2106,673 V699 Q2106,703 2102,703 H1974 Z" fill="#000"/>
<text x="1991" y="693.1" font-size="23.5" letter-spacing="1.65" fill="#fff">2,052.30</text>
<g>
<circle cx="34" cy="24" r="18" fill="url(#ethg)"/>
<path d="M33.7,12.3 L33.8,28.6 L26.1,24.8 Z" fill="#eef2fe"/>
<path d="M33.7,12.3 L41.8,25 L33.8,28.6 Z" fill="#c6d1f7"/>
<path d="M26.1,24.8 L33.8,21 L33.8,28.6 Z" fill="#b3c0f2"/>
<path d="M41.8,25 L33.8,21 L33.8,28.6 Z" fill="#8a9be3"/>
<path d="M26.8,26.6 L33.8,30.2 L33.9,35.8 Z" fill="#eef2fe"/>
<path d="M41,26.8 L33.8,30.2 L33.9,35.8 Z" fill="#b9c6f4"/>
</g>
<path d="M467.4,25 L466.6,31.5" stroke="#a4a7ae" stroke-width="1.3" stroke-linecap="round"/>
<text x="61" y="35.8" font-size="32.4" fill="#131722" textLength="377" lengthAdjust="spacingAndGlyphs">Ethereum / U.S. Dollar · 4h</text>
<rect x="1981" y="1.5" width="126" height="50" rx="6" fill="#fff" stroke="#e6e6e6" stroke-width="2"/>
<text x="1989" y="34.5" font-size="24" fill="#000">USD</text>
<polyline points="2087.8,23.5 2093,28.5 2098.2,23.5" fill="none" stroke="#000" stroke-width="2.2"/>
<g clip-path="url(#macdc)">
<rect x="2.20" y="1010.8" width="7.6" height="5.9" fill="#4e9c88"/>
<rect x="12.20" y="1004.1" width="7.6" height="12.6" fill="#4e9c88"/>
<rect x="21.20" y="1000.1" width="7.6" height="16.6" fill="#4e9c88"/>
<rect x="31.20" y="999.8" width="7.6" height="16.9" fill="#4e9c88"/>
<rect x="40.20" y="998.3" width="7.6" height="18.4" fill="#4e9c88"/>
<rect x="49.20" y="996.8" width="7.6" height="19.9" fill="#4e9c88"/>
<rect x="59.20" y="999.2" width="7.6" height="17.5" fill="#b5dcd6"/>
<rect x="68.20" y="1003.5" width="7.6" height="13.2" fill="#b5dcd6"/>
<rect x="78.20" y="1002.5" width="7.6" height="14.2" fill="#4e9c88"/>
<rect x="87.20" y="1004.0" width="7.6" height="12.7" fill="#b5dcd6"/>
<rect x="97.20" y="1002.7" width="7.6" height="14.0" fill="#4e9c88"/>
<rect x="106.20" y="1001.3" width="7.6" height="15.4" fill="#4e9c88"/>
<rect x="115.20" y="1003.0" width="7.6" height="13.7" fill="#b5dcd6"/>
<rect x="125.20" y="1004.2" width="7.6" height="12.5" fill="#b5dcd6"/>
<rect x="134.20" y="1005.2" width="7.6" height="11.5" fill="#b5dcd6"/>
<rect x="144.20" y="1008.5" width="7.6" height="8.2" fill="#b5dcd6"/>
<rect x="153.20" y="1014.3" width="7.6" height="2.4" fill="#b5dcd6"/>
<rect x="162.20" y="1014.8" width="7.6" height="8.6" fill="#ea5a5c"/>
<rect x="172.20" y="1014.8" width="7.6" height="13.3" fill="#ea5a5c"/>
<rect x="181.20" y="1014.8" width="7.6" height="18.0" fill="#ea5a5c"/>
<rect x="191.20" y="1014.8" width="7.6" height="19.1" fill="#ea5a5c"/>
<rect x="200.20" y="1014.8" width="7.6" height="18.8" fill="#f6cbd1"/>
<rect x="210.20" y="1014.8" width="7.6" height="17.0" fill="#f6cbd1"/>
<rect x="219.20" y="1014.8" width="7.6" height="21.9" fill="#ea5a5c"/>
<rect x="228.20" y="1014.8" width="7.6" height="24.0" fill="#ea5a5c"/>
<rect x="238.20" y="1014.8" width="7.6" height="25.1" fill="#ea5a5c"/>
<rect x="247.20" y="1014.8" width="7.6" height="23.3" fill="#f6cbd1"/>
<rect x="257.20" y="1014.8" width="7.6" height="20.4" fill="#f6cbd1"/>
<rect x="266.20" y="1014.8" width="7.6" height="15.8" fill="#f6cbd1"/>
<rect x="275.20" y="1014.8" width="7.6" height="12.8" fill="#f6cbd1"/>
<rect x="285.20" y="1014.8" width="7.6" height="6.7" fill="#f6cbd1"/>
<rect x="294.20" y="1014.8" width="7.6" height="2.7" fill="#f6cbd1"/>
<rect x="304.20" y="1014.8" width="7.6" height="2.0" fill="#f6cbd1"/>
<rect x="313.20" y="1013.7" width="7.6" height="3.0" fill="#4e9c88"/>
<rect x="323.20" y="1012.6" width="7.6" height="4.1" fill="#4e9c88"/>
<rect x="332.20" y="1011.7" width="7.6" height="5.0" fill="#4e9c88"/>
<rect x="341.20" y="1012.2" width="7.6" height="4.5" fill="#b5dcd6"/>
<rect x="351.20" y="1011.6" width="7.6" height="5.1" fill="#4e9c88"/>
<rect x="360.20" y="1012.4" width="7.6" height="4.3" fill="#b5dcd6"/>
<rect x="370.20" y="1008.3" width="7.6" height="8.4" fill="#4e9c88"/>
<rect x="379.20" y="1002.8" width="7.6" height="13.9" fill="#4e9c88"/>
<rect x="388.20" y="998.7" width="7.6" height="18.0" fill="#4e9c88"/>
<rect x="398.20" y="996.0" width="7.6" height="20.7" fill="#4e9c88"/>
<rect x="407.20" y="999.8" width="7.6" height="16.9" fill="#b5dcd6"/>
<rect x="417.20" y="1002.9" width="7.6" height="13.8" fill="#b5dcd6"/>
<rect x="426.20" y="1001.7" width="7.6" height="15.0" fill="#4e9c88"/>
<rect x="435.20" y="1001.8" width="7.6" height="14.9" fill="#b5dcd6"/>
<rect x="445.20" y="1004.7" width="7.6" height="12.0" fill="#b5dcd6"/>
<rect x="454.20" y="1004.9" width="7.6" height="11.8" fill="#b5dcd6"/>
<rect x="464.20" y="1002.1" width="7.6" height="14.6" fill="#4e9c88"/>
<rect x="473.20" y="999.6" width="7.6" height="17.1" fill="#4e9c88"/>
<rect x="483.20" y="999.3" width="7.6" height="17.4" fill="#4e9c88"/>
<rect x="492.20" y="996.9" width="7.6" height="19.8" fill="#4e9c88"/>
<rect x="501.20" y="996.1" width="7.6" height="20.6" fill="#4e9c88"/>
<rect x="511.20" y="996.6" width="7.6" height="20.1" fill="#b5dcd6"/>
<rect x="520.20" y="997.8" width="7.6" height="18.9" fill="#b5dcd6"/>
<rect x="530.20" y="999.6" width="7.6" height="17.1" fill="#b5dcd6"/>
<rect x="539.20" y="1010.8" width="7.6" height="5.9" fill="#b5dcd6"/>
<rect x="548.20" y="1014.8" width="7.6" height="3.6" fill="#ea5a5c"/>
<rect x="558.20" y="1014.8" width="7.6" height="9.7" fill="#ea5a5c"/>
<rect x="567.20" y="1014.8" width="7.6" height="11.2" fill="#ea5a5c"/>
<rect x="577.20" y="1014.8" width="7.6" height="11.3" fill="#ea5a5c"/>
<rect x="586.20" y="1014.8" width="7.6" height="10.7" fill="#f6cbd1"/>
<rect x="596.20" y="1014.8" width="7.6" height="10.1" fill="#f6cbd1"/>
<rect x="605.20" y="1014.8" width="7.6" height="8.8" fill="#f6cbd1"/>
<rect x="614.20" y="1014.8" width="7.6" height="8.0" fill="#f6cbd1"/>
<rect x="624.20" y="1014.8" width="7.6" height="8.1" fill="#ea5a5c"/>
<rect x="633.20" y="1014.8" width="7.6" height="7.7" fill="#f6cbd1"/>
<rect x="643.20" y="1014.8" width="7.6" height="7.7" fill="#f6cbd1"/>
<rect x="652.20" y="1014.8" width="7.6" height="7.0" fill="#f6cbd1"/>
<rect x="661.20" y="1014.8" width="7.6" height="6.1" fill="#f6cbd1"/>
<rect x="671.20" y="1014.8" width="7.6" height="5.4" fill="#f6cbd1"/>
<rect x="680.20" y="1014.8" width="7.6" height="3.8" fill="#f6cbd1"/>
<rect x="690.20" y="1014.8" width="7.6" height="2.3" fill="#f6cbd1"/>
<rect x="699.20" y="1014.8" width="7.6" height="1.6" fill="#f6cbd1"/>
<rect x="709.20" y="1014.8" width="7.6" height="1.6" fill="#ea5a5c"/>
<rect x="718.20" y="1014.8" width="7.6" height="3.5" fill="#ea5a5c"/>
<rect x="727.20" y="1014.8" width="7.6" height="4.1" fill="#ea5a5c"/>
<rect x="737.20" y="1014.8" width="7.6" height="2.8" fill="#f6cbd1"/>
<rect x="746.20" y="1014.8" width="7.6" height="1.6" fill="#f6cbd1"/>
<rect x="756.20" y="1009.3" width="7.6" height="7.4" fill="#4e9c88"/>
<rect x="765.20" y="1003.2" width="7.6" height="13.5" fill="#4e9c88"/>
<rect x="774.20" y="1001.3" width="7.6" height="15.4" fill="#4e9c88"/>
<rect x="784.20" y="998.6" width="7.6" height="18.1" fill="#4e9c88"/>
<rect x="793.20" y="996.4" width="7.6" height="20.3" fill="#4e9c88"/>
<rect x="803.20" y="998.7" width="7.6" height="18.0" fill="#b5dcd6"/>
<rect x="812.20" y="1006.4" width="7.6" height="10.3" fill="#b5dcd6"/>
<rect x="822.20" y="1010.0" width="7.6" height="6.7" fill="#b5dcd6"/>
<rect x="831.20" y="1013.2" width="7.6" height="3.5" fill="#b5dcd6"/>
<rect x="840.20" y="1014.8" width="7.6" height="2.1" fill="#ea5a5c"/>
<rect x="850.20" y="1014.8" width="7.6" height="5.5" fill="#ea5a5c"/>
<rect x="859.20" y="1014.8" width="7.6" height="4.4" fill="#f6cbd1"/>
<rect x="869.20" y="1005.2" width="7.6" height="11.5" fill="#4e9c88"/>
<rect x="878.20" y="998.0" width="7.6" height="18.7" fill="#4e9c88"/>
<rect x="887.20" y="993.0" width="7.6" height="23.7" fill="#4e9c88"/>
<rect x="897.20" y="992.3" width="7.6" height="24.4" fill="#4e9c88"/>
<rect x="906.20" y="996.4" width="7.6" height="20.3" fill="#b5dcd6"/>
<rect x="916.20" y="1000.9" width="7.6" height="15.8" fill="#b5dcd6"/>
<rect x="925.20" y="1007.0" width="7.6" height="9.7" fill="#b5dcd6"/>
<rect x="934.20" y="1012.8" width="7.6" height="3.9" fill="#b5dcd6"/>
<rect x="944.20" y="1014.8" width="7.6" height="1.9" fill="#ea5a5c"/>
<rect x="953.20" y="1014.8" width="7.6" height="4.9" fill="#ea5a5c"/>
<rect x="963.20" y="1014.8" width="7.6" height="3.3" fill="#f6cbd1"/>
<rect x="972.20" y="1014.8" width="7.6" height="2.8" fill="#f6cbd1"/>
<rect x="982.20" y="1014.8" width="7.6" height="5.3" fill="#ea5a5c"/>
<rect x="991.20" y="1014.8" width="7.6" height="7.3" fill="#ea5a5c"/>
<rect x="1000.20" y="1014.8" width="7.6" height="9.5" fill="#ea5a5c"/>
<rect x="1010.20" y="1014.8" width="7.6" height="6.8" fill="#f6cbd1"/>
<rect x="1019.20" y="1014.8" width="7.6" height="4.7" fill="#f6cbd1"/>
<rect x="1029.20" y="1014.8" width="7.6" height="1.6" fill="#f6cbd1"/>
<rect x="1038.20" y="1014.3" width="7.6" height="2.4" fill="#4e9c88"/>
<rect x="1047.20" y="1013.1" width="7.6" height="3.6" fill="#4e9c88"/>
<rect x="1057.20" y="1014.8" width="7.6" height="1.9" fill="#b5dcd6"/>
<rect x="1066.20" y="1014.6" width="7.6" height="2.1" fill="#4e9c88"/>
<rect x="1076.20" y="1014.9" width="7.6" height="1.8" fill="#b5dcd6"/>
<rect x="1085.20" y="1008.6" width="7.6" height="8.1" fill="#4e9c88"/>
<rect x="1095.20" y="1008.7" width="7.6" height="8.0" fill="#b5dcd6"/>
<rect x="1104.20" y="1014.8" width="7.6" height="1.6" fill="#ea5a5c"/>
<rect x="1113.20" y="1014.8" width="7.6" height="6.8" fill="#ea5a5c"/>
<rect x="1123.20" y="1014.8" width="7.6" height="11.1" fill="#ea5a5c"/>
<rect x="1132.20" y="1014.8" width="7.6" height="15.6" fill="#ea5a5c"/>
<rect x="1142.20" y="1014.8" width="7.6" height="15.9" fill="#ea5a5c"/>
<rect x="1151.20" y="1014.8" width="7.6" height="16.4" fill="#ea5a5c"/>
<rect x="1160.20" y="1014.8" width="7.6" height="16.6" fill="#ea5a5c"/>
<rect x="1170.20" y="1014.8" width="7.6" height="16.8" fill="#ea5a5c"/>
<rect x="1179.20" y="1014.8" width="7.6" height="16.1" fill="#f6cbd1"/>
<rect x="1189.20" y="1014.8" width="7.6" height="13.5" fill="#f6cbd1"/>
<rect x="1198.20" y="1014.8" width="7.6" height="5.1" fill="#f6cbd1"/>
<rect x="1208.20" y="1004.0" width="7.6" height="12.7" fill="#4e9c88"/>
<rect x="1217.20" y="995.2" width="7.6" height="21.5" fill="#4e9c88"/>
<rect x="1226.20" y="990.6" width="7.6" height="26.1" fill="#4e9c88"/>
<rect x="1236.20" y="989.4" width="7.6" height="27.3" fill="#4e9c88"/>
<rect x="1245.20" y="990.5" width="7.6" height="26.2" fill="#b5dcd6"/>
<rect x="1255.20" y="998.8" width="7.6" height="17.9" fill="#b5dcd6"/>
<rect x="1264.20" y="1004.0" width="7.6" height="12.7" fill="#b5dcd6"/>
<rect x="1273.20" y="1008.9" width="7.6" height="7.8" fill="#b5dcd6"/>
<rect x="1283.20" y="1012.7" width="7.6" height="4.0" fill="#b5dcd6"/>
<rect x="1292.20" y="1014.8" width="7.6" height="1.9" fill="#b5dcd6"/>
<rect x="1302.20" y="1014.8" width="7.6" height="1.6" fill="#ea5a5c"/>
<rect x="1311.20" y="1014.1" width="7.6" height="2.6" fill="#4e9c88"/>
<rect x="1320.20" y="1014.8" width="7.6" height="1.9" fill="#b5dcd6"/>
<rect x="1330.20" y="1014.7" width="7.6" height="2.0" fill="#4e9c88"/>
<rect x="1339.20" y="1014.8" width="7.6" height="2.8" fill="#ea5a5c"/>
<rect x="1349.20" y="1014.8" width="7.6" height="5.5" fill="#ea5a5c"/>
<rect x="1358.20" y="1014.8" width="7.6" height="6.6" fill="#ea5a5c"/>
<rect x="1368.20" y="1014.8" width="7.6" height="5.5" fill="#f6cbd1"/>
<rect x="1377.20" y="1014.8" width="7.6" height="5.9" fill="#ea5a5c"/>
<rect x="1386.20" y="1014.8" width="7.6" height="8.6" fill="#ea5a5c"/>
<rect x="1396.20" y="1014.8" width="7.6" height="10.0" fill="#ea5a5c"/>
<rect x="1405.20" y="1014.8" width="7.6" height="8.3" fill="#f6cbd1"/>
<rect x="1415.20" y="1013.3" width="7.6" height="3.4" fill="#4e9c88"/>
<rect x="1424.20" y="1009.0" width="7.6" height="7.7" fill="#4e9c88"/>
<rect x="1433.20" y="1007.9" width="7.6" height="8.8" fill="#4e9c88"/>
<rect x="1443.20" y="1009.9" width="7.6" height="6.8" fill="#b5dcd6"/>
<rect x="1452.20" y="1011.5" width="7.6" height="5.2" fill="#b5dcd6"/>
<rect x="1462.20" y="1014.8" width="7.6" height="3.9" fill="#ea5a5c"/>
<rect x="1471.20" y="1014.8" width="7.6" height="7.4" fill="#ea5a5c"/>
<rect x="1481.20" y="1014.8" width="7.6" height="10.9" fill="#ea5a5c"/>
<rect x="1490.20" y="1014.8" width="7.6" height="12.4" fill="#ea5a5c"/>
<rect x="1499.20" y="1014.8" width="7.6" height="14.4" fill="#ea5a5c"/>
<rect x="1509.20" y="1014.8" width="7.6" height="17.6" fill="#ea5a5c"/>
<rect x="1518.20" y="1014.8" width="7.6" height="17.8" fill="#ea5a5c"/>
<rect x="1528.20" y="1014.8" width="7.6" height="16.8" fill="#f6cbd1"/>
<rect x="1537.20" y="1014.8" width="7.6" height="19.1" fill="#ea5a5c"/>
<rect x="1546.20" y="1014.8" width="7.6" height="22.8" fill="#ea5a5c"/>
<rect x="1556.20" y="1014.8" width="7.6" height="22.7" fill="#f6cbd1"/>
<rect x="1565.20" y="1014.8" width="7.6" height="21.8" fill="#f6cbd1"/>
<line x1="0" y1="1015.7" x2="1972" y2="1015.7" stroke="#80838c" stroke-opacity="0.6" stroke-width="2" stroke-dasharray="10.5 11.45" stroke-dashoffset="-0.6"/>
<text transform="translate(1236,952.3) rotate(4.9)" font-size="30" font-weight="bold" fill="#000" textLength="300" lengthAdjust="spacingAndGlyphs">Bearish Divergence</text>
<line x1="1192.3" y1="938.3" x2="1224.3" y2="941.1" stroke="#000" stroke-width="2.2"/>
<line x1="1547.6" y1="967.2" x2="1579.3" y2="969.5" stroke="#000" stroke-width="2.2"/>
<polyline points="-2.4,1059.9 6.4,1058.4 15.8,1055.5 25.2,1051.6 34.6,1047.6 44.1,1043.3 53.5,1038.5 62.9,1034.4 72.3,1031.4 81.7,1028.1 91.1,1025.2 100.5,1021.9 110.0,1018.3 119.4,1015.1 128.8,1012.2 138.2,1009.6 147.6,1007.8 157.0,1007.5 166.5,1009.4 175.9,1012.5 185.3,1016.8 194.7,1021.3 204.1,1025.8 213.5,1029.8 222.9,1035.1 232.4,1040.8 241.8,1046.9 251.2,1052.5 260.6,1057.3 270.0,1061.1 279.4,1064.0 288.8,1065.5 298.3,1065.9 307.7,1066.2 317.1,1065.7 326.5,1064.9 335.9,1063.9 345.3,1063.0 354.8,1062.0 364.2,1061.2 373.6,1059.4 383.0,1056.1 392.4,1051.9 401.8,1046.9 411.2,1043.0 420.7,1039.8 430.1,1036.3 439.5,1032.8 448.9,1030.0 458.3,1027.3 467.7,1023.9 477.1,1019.9 486.6,1015.8 496.0,1011.1 505.4,1006.2 514.8,1001.4 524.2,996.9 533.6,992.9 543.1,991.7 552.5,992.4 561.9,994.6 571.3,997.2 580.7,999.8 590.1,1002.2 599.5,1004.5 609.0,1006.5 618.4,1008.3 627.8,1010.0 637.2,1011.7 646.6,1013.4 656.0,1015.0 665.4,1016.3 674.9,1017.4 684.3,1018.1 693.7,1018.5 703.1,1018.6 712.5,1018.7 721.9,1019.4 731.4,1020.2 740.8,1020.6 750.2,1020.7 759.6,1019.1 769.0,1016.0 778.4,1012.4 787.8,1008.1 797.3,1003.3 806.7,999.1 816.1,996.7 825.5,995.3 834.9,994.7 844.3,995.0 853.7,996.1 863.2,997.0 872.6,994.4 882.0,990.0 891.4,984.3 900.8,978.4 910.2,973.6 919.7,969.9 929.1,967.7 938.5,967.0 947.9,967.3 957.3,968.3 966.7,968.9 976.1,969.4 985.6,970.5 995.0,972.1 1004.4,974.2 1013.8,975.7 1023.2,976.6 1032.6,976.7 1042.0,976.3 1051.5,975.7 1060.9,975.5 1070.3,975.2 1079.7,975.0 1089.1,973.2 1098.5,971.5 1108.0,971.7 1117.4,973.1 1126.8,975.7 1136.2,979.3 1145.6,983.1 1155.0,987.0 1164.4,990.9 1173.9,994.9 1183.3,998.7 1192.7,1001.8 1202.1,1002.9 1211.5,1000.0 1220.9,994.9 1230.3,988.6 1239.8,982.0 1249.2,975.7 1258.6,971.5 1268.0,968.5 1277.4,966.8 1286.8,966.1 1296.3,965.9 1305.7,966.0 1315.1,965.6 1324.5,965.4 1333.9,965.1 1343.3,965.6 1352.7,966.8 1362.2,968.2 1371.6,969.4 1381.0,970.6 1390.4,972.5 1399.8,974.8 1409.2,976.6 1418.6,976.0 1428.1,974.4 1437.5,972.4 1446.9,971.0 1456.3,969.9 1465.7,970.7 1475.1,972.3 1484.6,974.8 1494.0,977.7 1503.4,981.0 1512.8,985.2 1522.2,989.4 1531.6,993.4 1541.0,998.0 1550.5,1003.4 1559.9,1008.9 1569.3,1014.1" fill="none" stroke="#f57c2b" stroke-width="2.3" stroke-linejoin="round"/>
<polyline points="-2.4,1057.5 6.4,1053.5 15.8,1043.9 25.2,1036.0 34.6,1031.7 44.1,1025.9 53.5,1019.7 62.9,1017.9 72.3,1019.2 81.7,1014.9 91.1,1013.4 100.5,1008.9 110.0,1003.9 119.4,1002.4 128.8,1000.7 138.2,999.1 147.6,1000.6 157.0,1006.0 166.5,1017.1 175.9,1025.0 185.3,1033.9 194.7,1039.5 204.1,1043.7 213.5,1045.9 222.9,1056.0 232.4,1063.9 241.8,1071.0 251.2,1074.8 260.6,1076.8 270.0,1075.9 279.4,1076.0 288.8,1071.3 298.3,1067.7 307.7,1067.3 317.1,1063.7 326.5,1061.8 335.9,1059.9 345.3,1059.5 354.8,1058.0 364.2,1057.9 373.6,1051.9 383.0,1043.2 392.4,1034.9 401.8,1027.2 411.2,1027.1 420.7,1027.0 430.1,1022.2 439.5,1018.9 448.9,1019.1 458.3,1016.5 467.7,1010.3 477.1,1003.8 486.6,999.4 496.0,992.3 505.4,986.6 514.8,982.3 524.2,979.0 533.6,976.8 543.1,986.8 552.5,995.1 561.9,1003.4 571.3,1007.4 580.7,1010.2 590.1,1012.0 599.5,1013.8 609.0,1014.3 618.4,1015.3 627.8,1017.2 637.2,1018.6 646.6,1020.2 656.0,1021.0 665.4,1021.4 674.9,1021.8 684.3,1021.0 693.7,1019.9 703.1,1019.0 712.5,1019.4 721.9,1022.0 731.4,1023.4 740.8,1022.5 750.2,1020.9 759.6,1012.7 769.0,1003.5 778.4,998.0 787.8,991.0 797.3,984.0 806.7,982.1 816.1,987.5 825.5,989.6 834.9,992.2 844.3,996.1 853.7,1000.8 863.2,1000.5 872.6,983.8 882.0,972.3 891.4,961.6 900.8,955.0 910.2,954.3 919.7,955.1 929.1,959.1 938.5,964.2 947.9,968.3 957.3,972.3 966.7,971.3 976.1,971.3 985.6,974.9 995.0,978.5 1004.4,982.8 1013.8,981.5 1023.2,980.5 1032.6,977.0 1042.0,974.9 1051.5,973.1 1060.9,974.6 1070.3,974.1 1079.7,974.2 1089.1,966.2 1098.5,964.4 1108.0,972.4 1117.4,979.0 1126.8,985.9 1136.2,994.0 1145.6,998.1 1155.0,1002.5 1164.4,1006.6 1173.9,1010.8 1183.3,1013.9 1192.7,1014.5 1202.1,1007.2 1211.5,988.3 1220.9,974.3 1230.3,963.5 1239.8,955.6 1249.2,950.5 1258.6,954.6 1268.0,956.8 1277.4,960.0 1286.8,963.1 1296.3,965.0 1305.7,966.6 1315.1,964.0 1324.5,964.5 1333.9,964.1 1343.3,967.5 1352.7,971.4 1362.2,973.9 1371.6,974.0 1381.0,975.6 1390.4,980.2 1399.8,983.9 1409.2,984.0 1418.6,973.6 1428.1,967.7 1437.5,964.6 1446.9,965.2 1456.3,965.7 1465.7,973.7 1475.1,978.8 1484.6,984.8 1494.0,989.2 1503.4,994.5 1512.8,1001.9 1522.2,1006.3 1531.6,1009.3 1541.0,1016.1 1550.5,1025.3 1559.9,1030.7 1569.3,1035.0" fill="none" stroke="#2d5af5" stroke-width="2.2" stroke-linejoin="round"/>
</g>
<text x="16.9" y="948.4" font-size="25" letter-spacing="0.4" fill="#131722">MACD</text>
<g fill="#fff" stroke="#fff" stroke-width="10" stroke-linejoin="round"><path d="M22.5,1006 H46.2 V1035.8 H34.1 V1015.4 H22.5 Z"/>
<circle cx="56.6" cy="1012.5" r="6.1"/>
<path d="M66.2,1006 H81.5 L71.9,1035.8 H55.8 Z"/>
<text x="96.8" y="1035.8" font-size="41" font-weight="bold" textLength="241" lengthAdjust="spacingAndGlyphs">TradingView</text></g>
<g fill="#111"><path d="M22.5,1006 H46.2 V1035.8 H34.1 V1015.4 H22.5 Z"/>
<circle cx="56.6" cy="1012.5" r="6.1"/>
<path d="M66.2,1006 H81.5 L71.9,1035.8 H55.8 Z"/>
<text x="96.8" y="1035.8" font-size="41" font-weight="bold" textLength="241" lengthAdjust="spacingAndGlyphs">TradingView</text></g>
<text x="1991" y="963.5" font-size="23.5" letter-spacing="1.65" fill="#131722">40.00</text>
<text x="1991" y="1024" font-size="23.5" letter-spacing="1.65" fill="#131722">0.00</text>
<defs><clipPath id="timec"><rect x="0" y="1064" width="1972" height="54"/></clipPath></defs><g clip-path="url(#timec)">
<text x="45.0" y="1101.5" font-size="23" text-anchor="middle" letter-spacing="2" fill="#131722">24</text>
<text x="158.0" y="1101.5" font-size="23" text-anchor="middle" letter-spacing="2" fill="#131722">26</text>
<text x="271.0" y="1101.5" font-size="23" text-anchor="middle" letter-spacing="2" fill="#131722">28</text>
<text x="384.0" y="1101.5" font-size="23" text-anchor="middle" letter-spacing="2" fill="#131722">30</text>
<text x="497.0" y="1101.5" font-size="23" font-weight="bold" text-anchor="middle" letter-spacing="1" fill="#131722">Apr</text>
<text x="610.0" y="1101.5" font-size="23" text-anchor="middle" letter-spacing="2" fill="#131722">3</text>
<text x="723.0" y="1101.5" font-size="23" text-anchor="middle" letter-spacing="2" fill="#131722">5</text>
<text x="836.0" y="1101.5" font-size="23" text-anchor="middle" letter-spacing="2" fill="#131722">7</text>
<text x="949.0" y="1101.5" font-size="23" text-anchor="middle" letter-spacing="2" fill="#131722">9</text>
<text x="1062.0" y="1101.5" font-size="23" text-anchor="middle" letter-spacing="2" fill="#131722">11</text>
<text x="1175.0" y="1101.5" font-size="23" text-anchor="middle" letter-spacing="2" fill="#131722">13</text>
<text x="1288.0" y="1101.5" font-size="23" text-anchor="middle" letter-spacing="2" fill="#131722">15</text>
<text x="1401.0" y="1101.5" font-size="23" text-anchor="middle" letter-spacing="2" fill="#131722">17</text>
<text x="1514.0" y="1101.5" font-size="23" text-anchor="middle" letter-spacing="2" fill="#131722">19</text>
<text x="1627.0" y="1101.5" font-size="23" text-anchor="middle" letter-spacing="2" fill="#131722">21</text>
<text x="1740.0" y="1101.5" font-size="23" text-anchor="middle" letter-spacing="2" fill="#131722">23</text>
<text x="1853.0" y="1101.5" font-size="23" text-anchor="middle" letter-spacing="2" fill="#131722">25</text>
<text x="1966.0" y="1101.5" font-size="23" text-anchor="middle" letter-spacing="2" fill="#131722">27</text>
</g>
<polygon points="2059.2,1093.0 2052.0,1104.7 2037.6,1104.7 2030.4,1093.0 2037.6,1081.3 2052.0,1081.3" fill="none" stroke="#000" stroke-width="2.2"/>
<circle cx="2044.8" cy="1093" r="4.2" fill="none" stroke="#000" stroke-width="2.2"/>
</svg></body></html>
